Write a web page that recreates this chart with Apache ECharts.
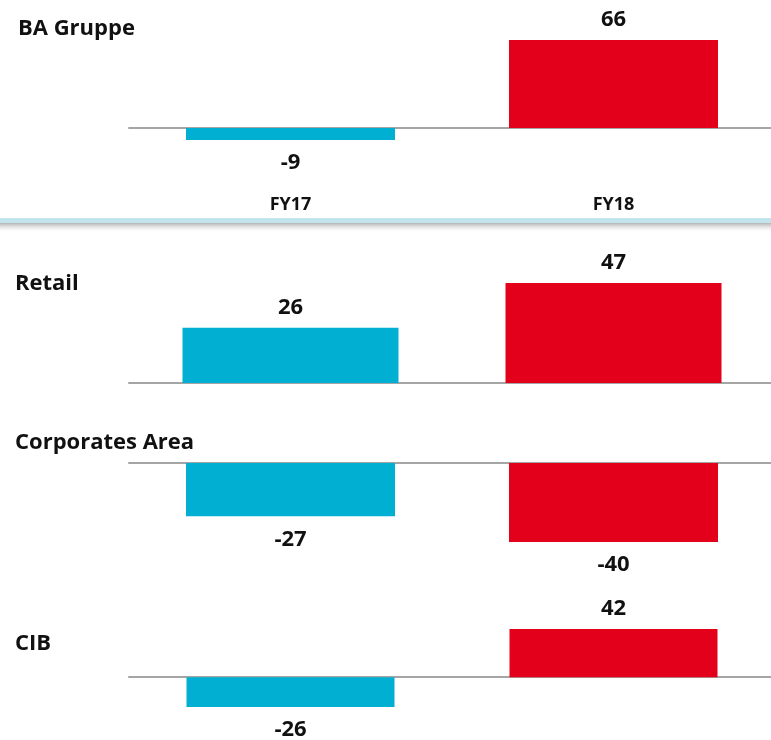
<!DOCTYPE html>
<html>
<head>
<meta charset="utf-8">
<style>
  html, body { margin: 0; padding: 0; background: #fff; }
  #chart { width: 771px; height: 740px; }
</style>
<script src="https://cdn.jsdelivr.net/npm/echarts@6/dist/echarts.min.js"></script>
</head>
<body>
<div id="chart"></div>
<script>
const categories = ['FY17', 'FY18'];
const segments = ['BA Gruppe', 'Retail', 'Corporates Area', 'CIB'];
const baGruppe = [-9, 66];
const retail = [26, 47];
const corporatesArea = [-27, -40];
const cib = [-26, 42];

const panelValues = [baGruppe, retail, corporatesArea, cib];
const barColors = ['#00AFD1', '#E2001A'];
const font = '"Open Sans", "Noto Sans", sans-serif';

// layout per panel: grid top / height, title top, bar width
const panels = [
  { top: 40, height: 100, titleTop: 18, titleLeft: 18, barWidth: 209 },
  { top: 283, height: 100, titleTop: 273, titleLeft: 15, barWidth: 216 },
  { top: 463, height: 79, titleTop: 432, titleLeft: 15, barWidth: 209 },
  { top: 629, height: 78, titleTop: 633, titleLeft: 15, barWidth: 208 }
];

const chart = echarts.init(document.getElementById('chart'));

chart.setOption({
  backgroundColor: '#fff',
  animation: false,
  title: panels.map((p, i) => ({
    text: segments[i],
    left: p.titleLeft,
    top: p.titleTop,
    padding: 0,
    textStyle: { fontFamily: font, fontSize: 22, fontWeight: 'bold', color: '#111' }
  })),
  grid: panels.map(p => ({
    left: 129, width: 646, top: p.top, height: p.height,
    outerBoundsMode: 'none', containLabel: false
  })),
  xAxis: panels.map((p, i) => ({
    type: 'category',
    gridIndex: i,
    data: categories,
    axisLine: { onZero: true, lineStyle: { color: '#A5A5A5', width: 2 } },
    axisTick: { show: false },
    axisLabel: {
      show: i === 0,
      margin: 56,
      fontFamily: font,
      fontSize: 18,
      fontWeight: 'bold',
      color: '#111'
    }
  })),
  yAxis: panelValues.map((vals, i) => ({
    type: 'value',
    gridIndex: i,
    min: Math.min(0, ...vals),
    max: Math.max(0, ...vals),
    show: false
  })),
  series: panelValues.map((vals, i) => ({
    type: 'bar',
    xAxisIndex: i,
    yAxisIndex: i,
    barWidth: panels[i].barWidth,
    data: vals.map((v, j) => ({
      value: v,
      itemStyle: { color: barColors[j] },
      label: { position: v < 0 ? 'bottom' : 'top', distance: v < 0 ? 12 : 9 }
    })),
    label: {
      show: true,
      fontFamily: font,
      fontSize: 22,
      fontWeight: 'bold',
      color: '#111'
    }
  })),
  graphic: [
    {
      type: 'rect',
      shape: { x: 0, y: 218, width: 771, height: 5 },
      style: { fill: '#C1E4ED' },
      silent: true
    },
    {
      type: 'rect',
      shape: { x: 0, y: 223, width: 771, height: 10 },
      style: {
        fill: new echarts.graphic.LinearGradient(0, 0, 0, 1, [
          { offset: 0, color: '#B3B3B3' },
          { offset: 1, color: 'rgba(255,255,255,0)' }
        ])
      },
      silent: true
    }
  ]
});
</script>
</body>
</html>
